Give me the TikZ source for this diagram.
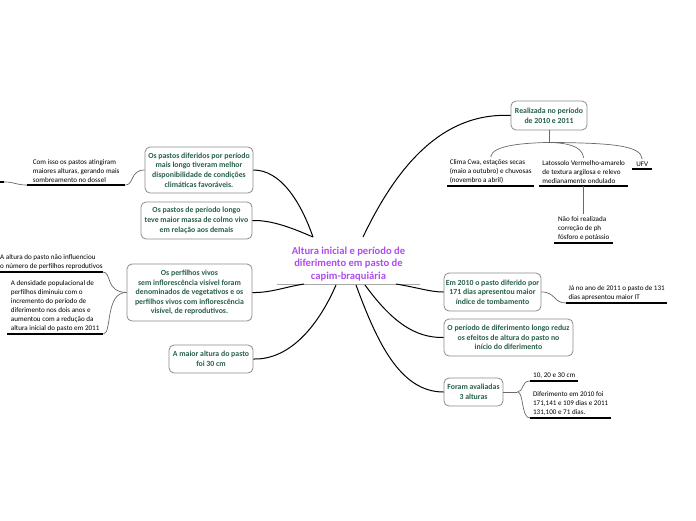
\documentclass[tikz,border=0pt]{standalone}
\usepackage{fontspec}
\setmainfont{Carlito}
\definecolor{nodegreen}{RGB}{38,96,72}
\definecolor{hubpurple}{RGB}{176,76,240}
\definecolor{boxgray}{RGB}{140,140,140}
\definecolor{linkgray}{RGB}{105,105,105}

\begin{document}
\begin{tikzpicture}[
    x=1pt, y=-1pt,
    box/.style={draw=boxgray, line width=0.8pt, rounded corners=5pt, fill=white, align=center, inner sep=1pt, text=nodegreen, font=\fontsize{7.8}{9.6}\selectfont\bfseries},
    hub/.style={align=center, text=hubpurple, font=\fontsize{10.6}{12.4}\selectfont\bfseries, inner xsep=1pt, inner ysep=3pt},
    sub/.style={align=left, anchor=south west, inner xsep=0pt, inner ysep=2.5pt, font=\fontsize{7.1}{8.9}\selectfont},
    uline/.style={line width=1.6pt},
    arr/.style={line width=1pt},
    twig/.style={line width=0.7pt, linkgray},
]
    \useasboundingbox (0,0) rectangle (696,520);

    % Central topic
    \node[hub, minimum width=143pt, anchor=south] (hub) at (348.5,284) {Altura inicial e período de\\diferimento em pasto de\\capim-braquiária};
    \draw[gray!70, line width=0.6pt] (hub.south west) -- (hub.south east);
    \coordinate (hubNW) at (313,237);
    \coordinate (hubNE) at (363,237);
    \coordinate (hubSW) at (304,284);
    \coordinate (hubS1) at (336,285);
    \coordinate (hubS2) at (356,285);
    \coordinate (hubS3) at (365,285);
    \coordinate (hubSE) at (396,284);

    % Left branches
    \node[box, minimum width=108pt, minimum height=46pt] (diferidos) at (199,170) {Os pastos diferidos por período\\mais longo tiveram melhor\\disponibilidade de condições\\climáticas favoráveis.};
    \node[box, minimum width=111pt, minimum height=37pt] (massa) at (196.5,220.5) {Os pastos de período longo\\teve maior massa de colmo vivo\\em relação aos demais};
    \node[box, minimum width=125pt, minimum height=57pt] (perfilhos) at (189.5,292.5) {Os perfilhos vivos\\sem inflorescência visível foram\\denominados de vegetativos e os\\perfilhos vivos com inflorescência\\visível, de reprodutivos.};
    \node[box, minimum width=84pt, minimum height=28pt] (maior) at (211,359) {A maior altura do pasto\\foi 30 cm};

    % Right branches
    \node[box, minimum width=76pt, minimum height=29pt] (periodo) at (549,115.5) {Realizada no período\\de 2010 e 2011};
    \node[box, minimum width=97pt, minimum height=38pt] (tomba) at (492.5,292) {Em 2010 o pasto diferido por\\171 dias apresentou maior\\índice de tombamento};
    \node[box, minimum width=129pt, minimum height=37pt] (reduz) at (508.5,337.5) {O período de diferimento longo reduz\\os efeitos de altura do pasto no\\início do diferimento};
    \node[box, minimum width=59pt, minimum height=28pt] (alturas) at (473.5,392) {Foram avaliadas\\3 alturas};

    % Sub-topics (underlined text)
    \node[sub, minimum width=98pt] (sombra) at (27,185) {Com isso os pastos atingiram\\maiores alturas, gerando mais\\sombreamento no dossel};
    \node[sub, minimum width=98pt] (reprod) at (0,272) {A altura do pasto não influenciou\\o número de perfilhos reprodutivos};
    \node[sub, minimum width=96pt] (densidade) at (7,334) {A densidade populacional de\\perfilhos diminuiu com o\\incremento do período de\\diferimento nos dois anos e\\aumentou com a redução da\\altura inicial do pasto em 2011};
    \node[sub, minimum width=87pt] (clima) at (447,186) {Clima Cwa, estações secas\\(maio a outubro) e chuvosas\\(novembro a abril)};
    \node[sub, minimum width=89pt] (solo) at (539,186) {Latossolo Vermelho-amarelo\\de textura argilosa e relevo\\medianamente ondulado};
    \node[sub, minimum width=20pt] (ufv) at (632,169) {UFV};
    \node[sub, minimum width=59pt] (correcao) at (554,243) {Não foi realizada\\correção de ph\\fósforo e potássio};
    \node[sub, minimum width=101pt] (tombaIT) at (566,303) {Já no ano de 2011 o pasto de 131\\dias apresentou maior IT};
    \node[sub, minimum width=48pt] (cm) at (530,381) {10, 20 e 30 cm};
    \node[sub, minimum width=81pt] (dias) at (530,418) {Diferimento em 2010 foi\\171,141 e 109 dias e 2011\\131,100 e 71 dias.};
    \coordinate (edgeL) at (4,182);

    \foreach \n in {sombra,reprod,densidade,clima,solo,ufv,correcao,tombaIT,cm,dias}
        \draw[uline] (\n.south west) -- (\n.south east);
    \draw[uline] (edgeL) -- ++(-4,0);

    % Connectors from the central topic
    \draw[arr] (hubNW) .. controls (300,200) and (280,170) .. (diferidos.east);
    \draw[arr] (hubNW) .. controls (292,228) and (272,220) .. (massa.east);
    \draw[arr] (hubSW) .. controls (285,287) and (270,293) .. (perfilhos.east);
    \draw[arr] (hubS1) .. controls (320,322) and (292,360) .. (maior.east);
    \draw[arr] (hubNE) .. controls (395,170) and (440,112) .. (periodo.west);
    \draw[arr] (hubSE) .. controls (420,288) and (430,292) .. (tomba.west);
    \draw[arr] (hubS3) .. controls (392,322) and (415,338) .. (reduz.west);
    \draw[arr] (hubS2) .. controls (377,342) and (400,392) .. (alturas.west);

    % Connectors to sub-topics
    \draw[twig] (diferidos.west) .. controls (130,170) and (134,185) .. (sombra.south east);
    \draw[twig] (sombra.south west) .. controls (15,185) and (16,182) .. (edgeL);
    \draw[twig] (perfilhos.west) .. controls (105,292) and (112,272) .. (reprod.south east);
    \draw[twig] (perfilhos.west) .. controls (105,292) and (112,334) .. (densidade.south east);
    \draw[twig] (periodo.south) -- ++(0,12) coordinate (fork5);
    \draw[twig] (fork5) .. controls (525,143) and (492,145) .. (clima.north);
    \draw[twig] (fork5) .. controls (565,143) and (582,145) .. (solo.north);
    \draw[twig] (fork5) .. controls (610,143) and (641,145) .. (ufv.north);
    \draw[twig] (solo.south) -- (correcao.north);
    \draw[twig] (tomba.east) .. controls (556,292) and (553,303) .. (tombaIT.south west);
    \draw[twig] (alturas.east) -- ++(14,0) coordinate (fork8);
    \draw[twig] (fork8) .. controls (524,392) and (521,381) .. (cm.south west);
    \draw[twig] (fork8) .. controls (524,392) and (521,418) .. (dias.south west);
\end{tikzpicture}
\end{document}
